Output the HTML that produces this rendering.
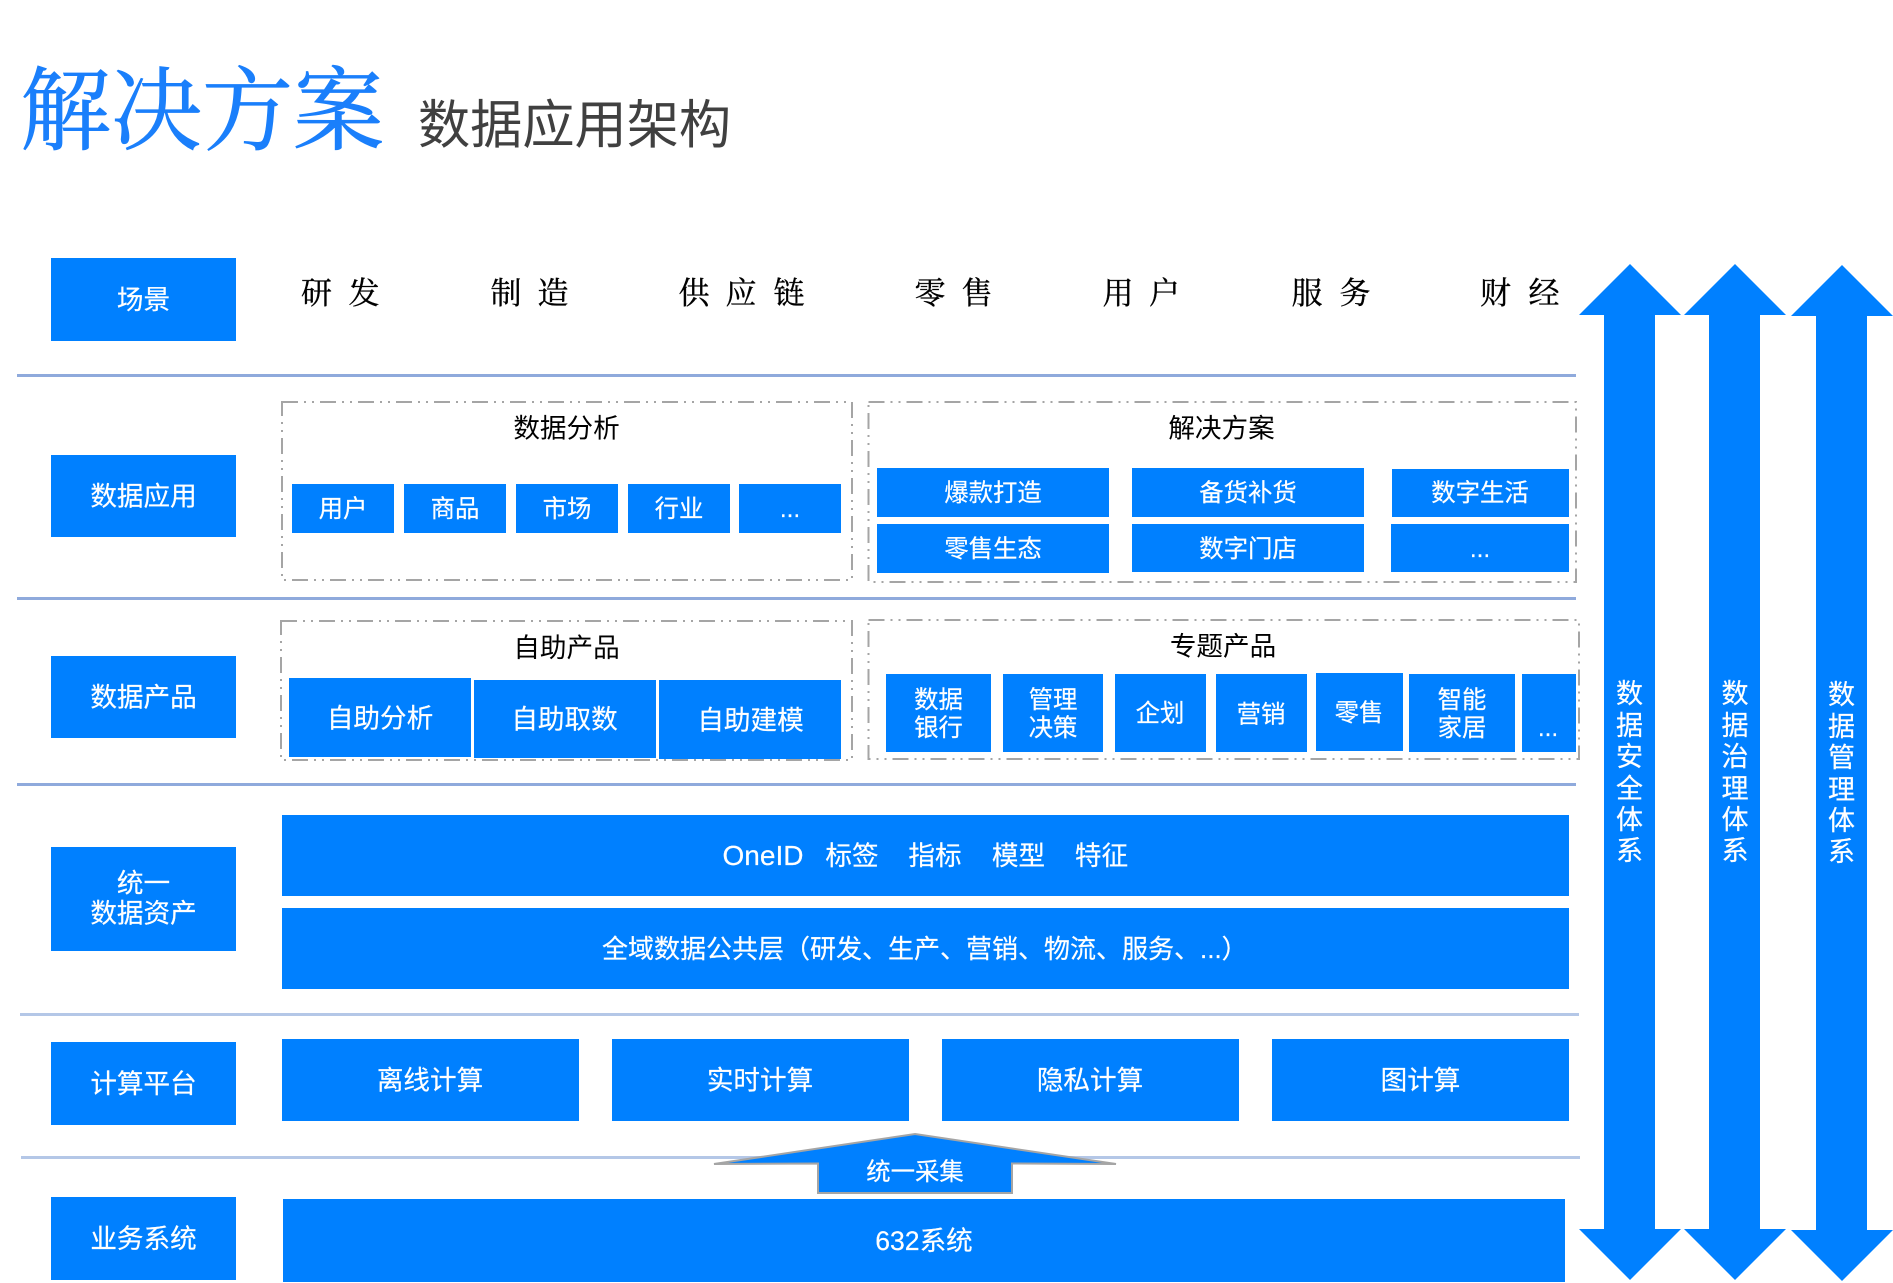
<!DOCTYPE html>
<html lang="zh"><head><meta charset="utf-8"><title>解决方案 数据应用架构</title>
<style>
html,body{margin:0;padding:0;background:#fff}
svg{display:block}
text{font-family:"Liberation Sans","Noto Sans CJK SC",sans-serif}
.b{fill:#0080ff}
.w{fill:#fff;text-anchor:middle;font-size:26.6px;stroke:#fff;stroke-width:.2}
.s{font-size:24.4px}
.k{fill:#000;text-anchor:middle;font-size:26.6px}
.v{fill:#fff;text-anchor:middle;font-size:27px;stroke:#fff;stroke-width:.2}
.sf{font-family:"Noto Serif CJK SC",serif;font-size:31px;fill:#000;text-anchor:middle;stroke:#000;stroke-width:.35}
.d{fill:none;stroke:#a5a5a5;stroke-width:2;stroke-dasharray:16 6 2 6 2 6}
.l1{stroke:#8faadc;stroke-width:3}
.l2{stroke:#b4c7e7;stroke-width:3}
</style></head><body>
<svg width="1893" height="1283" viewBox="0 0 1893 1283" xmlns="http://www.w3.org/2000/svg">
<text x="20" y="142.500" style="font-family:'Noto Serif CJK SC',serif;font-size:91px;fill:#1a7ffb;stroke:#1a7ffb;stroke-width:.8">解决方案</text>
<text x="418" y="143" style="font-family:'Noto Sans CJK SC',sans-serif;font-size:52.2px;fill:#404040;font-weight:400">数据应用架构</text>

<!-- separators -->
<line class="l1" x1="17" y1="375.500" x2="1576" y2="375.500"/>
<line class="l1" x1="17" y1="598.500" x2="1576" y2="598.500"/>
<line class="l1" x1="17" y1="784.500" x2="1576" y2="784.500"/>
<line class="l2" x1="20" y1="1014.500" x2="1579" y2="1014.500"/>
<line class="l2" x1="21" y1="1157.500" x2="1580" y2="1157.500"/>

<!-- left labels -->
<rect class="b" x="51" y="258" width="185" height="83"/>
<rect class="b" x="51" y="455" width="185" height="82"/>
<rect class="b" x="51" y="656" width="185" height="82"/>
<rect class="b" x="51" y="847" width="185" height="104"/>
<rect class="b" x="51" y="1042" width="185" height="83"/>
<rect class="b" x="51" y="1197" width="185" height="83"/>
<text class="w" x="143.500" y="309">场景</text>
<text class="w" x="143.500" y="505.500">数据应用</text>
<text class="w" x="143.500" y="706.500">数据产品</text>
<text class="w" x="143.500" y="892.500">统一</text>
<text class="w" x="143.500" y="922.500">数据资产</text>
<text class="w" x="143.500" y="1093">计算平台</text>
<text class="w" x="143.500" y="1248">业务系统</text>

<!-- scenarios -->
<g class="sf">
<text class="sf" x="316.500" y="304">研</text><text class="sf" x="364" y="304">发</text>
<text class="sf" x="506" y="304">制</text><text class="sf" x="553" y="304">造</text>
<text class="sf" x="694" y="304">供</text><text class="sf" x="741" y="304">应</text><text class="sf" x="789" y="304">链</text>
<text class="sf" x="930" y="304">零</text><text class="sf" x="977" y="304">售</text>
<text class="sf" x="1118" y="304">用</text><text class="sf" x="1164.500" y="304">户</text>
<text class="sf" x="1307" y="304">服</text><text class="sf" x="1355" y="304">务</text>
<text class="sf" x="1495.500" y="304">财</text><text class="sf" x="1544" y="304">经</text>
</g>

<!-- dashed groups -->
<rect class="d" x="282" y="402" width="570" height="178"/>
<rect class="d" x="868.500" y="402" width="707.500" height="180"/>
<rect class="d" x="281" y="621" width="571" height="139"/>
<rect class="d" x="868.500" y="620" width="710.500" height="139"/>
<text class="k" x="566.500" y="437.500">数据分析</text>
<text class="k" x="1221.500" y="437.500">解决方案</text>
<text class="k" x="566.500" y="657">自助产品</text>
<text class="k" x="1223" y="655.500">专题产品</text>

<!-- data analysis -->
<rect class="b" x="292" y="484" width="102" height="49"/>
<rect class="b" x="404" y="484" width="102" height="49"/>
<rect class="b" x="516" y="484" width="102" height="49"/>
<rect class="b" x="628" y="484" width="102" height="49"/>
<rect class="b" x="739" y="484" width="102" height="49"/>
<text class="w s" x="343" y="517">用户</text>
<text class="w s" x="455" y="517">商品</text>
<text class="w s" x="567" y="517">市场</text>
<text class="w s" x="679" y="517">行业</text>
<text class="w s" x="790" y="517">...</text>

<!-- solutions -->
<rect class="b" x="877" y="468" width="232" height="49"/>
<rect class="b" x="1132" y="468" width="232" height="49"/>
<rect class="b" x="1392" y="469" width="177" height="48"/>
<rect class="b" x="877" y="524" width="232" height="49"/>
<rect class="b" x="1132" y="524" width="232" height="48"/>
<rect class="b" x="1391" y="524" width="178" height="48"/>
<text class="w s" x="993" y="501">爆款打造</text>
<text class="w s" x="1248" y="501">备货补货</text>
<text class="w s" x="1480" y="501">数字生活</text>
<text class="w s" x="993" y="557">零售生态</text>
<text class="w s" x="1248" y="557">数字门店</text>
<text class="w s" x="1480" y="557">...</text>

<!-- self service -->
<rect class="b" x="289" y="678" width="182" height="79"/>
<rect class="b" x="474" y="680" width="182" height="78"/>
<rect class="b" x="659" y="680" width="182" height="79"/>
<text class="w" x="380" y="727.500">自助分析</text>
<text class="w" x="564.500" y="728.500">自助取数</text>
<text class="w" x="750.500" y="729.500">自助建模</text>

<!-- topic products -->
<rect class="b" x="886" y="674" width="105" height="78"/>
<rect class="b" x="1003" y="674" width="100" height="78"/>
<rect class="b" x="1115" y="674" width="91" height="78"/>
<rect class="b" x="1216" y="674" width="91" height="78"/>
<rect class="b" x="1316" y="673" width="87" height="78"/>
<rect class="b" x="1409" y="674" width="106" height="78"/>
<rect class="b" x="1522" y="674" width="54" height="78"/>
<text class="w s" x="938.500" y="708">数据</text><text class="w s" x="938.500" y="736">银行</text>
<text class="w s" x="1053" y="708">管理</text><text class="w s" x="1053" y="736">决策</text>
<text class="w s" x="1160" y="721.500">企划</text>
<text class="w s" x="1261" y="722.500">营销</text>
<text class="w s" x="1359" y="721">零售</text>
<text class="w s" x="1462" y="708">智能</text><text class="w s" x="1462" y="736">家居</text>
<text class="w s" x="1548" y="736">...</text>

<!-- unified assets -->
<rect class="b" x="282" y="815" width="1287" height="81"/>
<rect class="b" x="282" y="908" width="1287" height="81"/>
<text class="w" x="763" y="865" style="font-size:28px">OneID</text>
<text class="w" x="852" y="865">标签</text>
<text class="w" x="935" y="865">指标</text>
<text class="w" x="1018.500" y="865">模型</text>
<text class="w" x="1101.500" y="865">特征</text>
<text class="w" x="602" y="958" style="text-anchor:start;font-size:26px">全域数据公共层（研发、生产、营销、物流、服务、...）</text>

<!-- compute -->
<rect class="b" x="282" y="1039" width="297" height="82"/>
<rect class="b" x="612" y="1039" width="297" height="82"/>
<rect class="b" x="942" y="1039" width="297" height="82"/>
<rect class="b" x="1272" y="1039" width="297" height="82"/>
<text class="w" x="430" y="1089.500">离线计算</text>
<text class="w" x="760" y="1089.500">实时计算</text>
<text class="w" x="1090" y="1089.500">隐私计算</text>
<text class="w" x="1420.500" y="1089.500">图计算</text>

<!-- collect arrow -->
<polygon points="915,1134 1116,1164 1012,1163.500 1012,1193 818,1193 818,1163.500 714,1164" fill="#0080ff" stroke="#a5a5a5" stroke-width="2"/>
<text class="w s" x="915" y="1180">统一采集</text>

<!-- 632 -->
<rect class="b" x="283" y="1199" width="1282" height="83"/>
<text class="w" x="924" y="1250">632系统</text>

<!-- vertical arrows -->
<polygon class="b" points="1630,264 1681,315 1655,315 1655,1229 1681,1229 1630,1280 1579,1229 1604,1229 1604,315 1579,315"/>
<polygon class="b" points="1735,264 1786,315 1760,315 1760,1229 1786,1229 1735,1280 1684,1229 1709,1229 1709,315 1684,315"/>
<polygon class="b" points="1842,265 1893,316 1867,316 1867,1230 1893,1230 1842,1281 1791,1230 1816,1230 1816,316 1791,316"/>

<g>
<text class="v" x="1629.500" y="703">数</text><text class="v" x="1629.500" y="735">据</text><text class="v" x="1629.500" y="766">安</text><text class="v" x="1629.500" y="798">全</text><text class="v" x="1629.500" y="829">体</text><text class="v" x="1629.500" y="860">系</text>
<text class="v" x="1735" y="703">数</text><text class="v" x="1735" y="735">据</text><text class="v" x="1735" y="766">治</text><text class="v" x="1735" y="798">理</text><text class="v" x="1735" y="829">体</text><text class="v" x="1735" y="860">系</text>
<text class="v" x="1841.500" y="704">数</text><text class="v" x="1841.500" y="736">据</text><text class="v" x="1841.500" y="767">管</text><text class="v" x="1841.500" y="799">理</text><text class="v" x="1841.500" y="830">体</text><text class="v" x="1841.500" y="861">系</text>
</g>
</svg>
</body></html>
